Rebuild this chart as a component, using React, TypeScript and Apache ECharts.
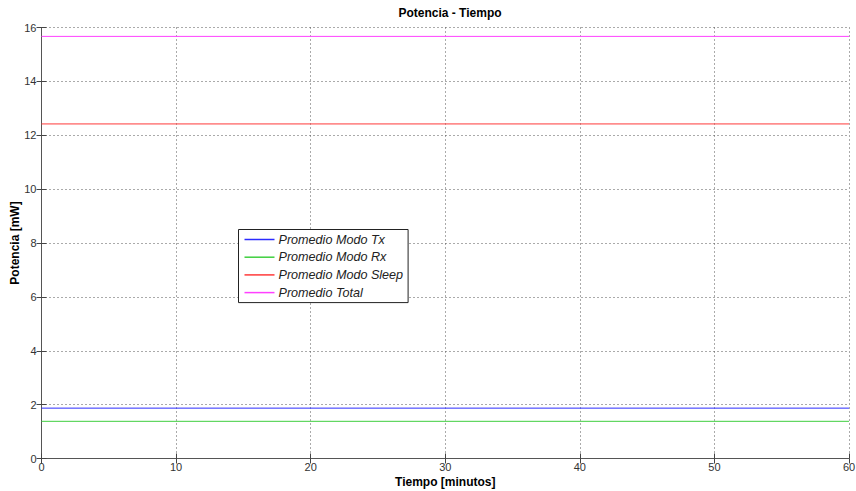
import React, { useEffect, useRef } from "react";
import * as echarts from "echarts";

// Time samples (minutes) and the average power per mode (mW)
const tiempo = [0, 60];
const promedioTx = [1.87, 1.87];
const promedioRx = [1.38, 1.38];
const promedioSleep = [12.42, 12.42];
const promedioTotal = [15.67, 15.67];

const seriesNames = [
  "Promedio Modo Tx",
  "Promedio Modo Rx",
  "Promedio Modo Sleep",
  "Promedio Total",
];
const seriesColors = ["#2b2bff", "#3fcf3f", "#ff3a3a", "#ff40ff"];
const seriesValues = [promedioTx, promedioRx, promedioSleep, promedioTotal];

const xTicks = { min: 0, max: 60, interval: 10 };
const yTicks = { min: 0, max: 16, interval: 2 };

const FONT = "Liberation Sans, Arial, sans-serif";

export default function App() {
  const ref = useRef<HTMLDivElement>(null);

  useEffect(() => {
    if (!ref.current) return;
    const chart = echarts.init(ref.current, undefined, { renderer: "svg" });

    const axisLine = { show: true, lineStyle: { color: "#555", width: 1 } };
    const tick = { show: true, inside: true, length: 5, lineStyle: { color: "#444" } };
    const split = { show: true, lineStyle: { color: "#555", type: [1, 3] as any, width: 1 } };

    chart.setOption({
      animation: false,
      backgroundColor: "#fff",
      title: {
        text: "Potencia - Tiempo",
        left: 445,
        top: 2,
        textAlign: "center",
        textStyle: { fontFamily: FONT, fontSize: 12, fontWeight: "bold", color: "#000" },
      },
      legend: {
        orient: "vertical",
        left: 238.5,
        top: 229.5,
        padding: [3, 5, 3, 6],
        itemGap: 3.7,
        itemWidth: 30,
        itemHeight: 1.5,
        icon: "rect",
        borderColor: "#222",
        borderWidth: 1,
        backgroundColor: "#fff",
        data: seriesNames,
        textStyle: {
          fontFamily: FONT,
          fontSize: 12.6,
          fontStyle: "italic",
          color: "#222",
          lineHeight: 14,
          padding: [0, 0, 0, -1],
        },
      },
      grid: {
        left: 41.5,
        right: 7,
        top: 27.5,
        bottom: 32.5,
        containLabel: false,
        outerBoundsMode: "none",
      },
      xAxis: [
        {
          type: "value",
          min: xTicks.min,
          max: xTicks.max,
          interval: xTicks.interval,
          position: "bottom",
          name: "Tiempo [minutos]",
          nameLocation: "middle",
          nameGap: 17,
          nameMoveOverlap: false,
          nameTextStyle: { fontFamily: FONT, fontSize: 12, fontWeight: "bold", color: "#000" },
          axisLine,
          axisTick: tick,
          splitLine: split,
          axisLabel: { fontFamily: FONT, fontSize: 11, color: "#333", margin: 3 },
        },
        {
          type: "value",
          min: xTicks.min,
          max: xTicks.max,
          interval: xTicks.interval,
          position: "top",
          axisLine,
          axisTick: tick,
          splitLine: { show: false },
          axisLabel: { show: false },
        },
      ],
      yAxis: [
        {
          type: "value",
          min: yTicks.min,
          max: yTicks.max,
          interval: yTicks.interval,
          position: "left",
          name: "Potencia [mW]",
          nameLocation: "middle",
          nameGap: 21,
          nameMoveOverlap: false,
          nameTextStyle: { fontFamily: FONT, fontSize: 12, fontWeight: "bold", color: "#000" },
          axisLine,
          axisTick: tick,
          splitLine: split,
          axisLabel: { fontFamily: FONT, fontSize: 11, color: "#333", margin: 5 },
        },
        {
          type: "value",
          min: yTicks.min,
          max: yTicks.max,
          interval: yTicks.interval,
          position: "right",
          axisLine,
          axisTick: tick,
          splitLine: { show: false },
          axisLabel: { show: false },
        },
      ],
      series: seriesNames.map((name, i) => ({
        name,
        type: "line",
        showSymbol: false,
        symbol: "none",
        color: seriesColors[i],
        lineStyle: { width: 1, color: seriesColors[i] },
        data: tiempo.map((t, k) => [t, seriesValues[i][k]]),
        z: 3,
      })),
    });

    return () => chart.dispose();
  }, []);

  return (
    <div
      ref={ref}
      style={{ position: "fixed", left: 0, top: 0, width: 856, height: 491 }}
    />
  );
}
